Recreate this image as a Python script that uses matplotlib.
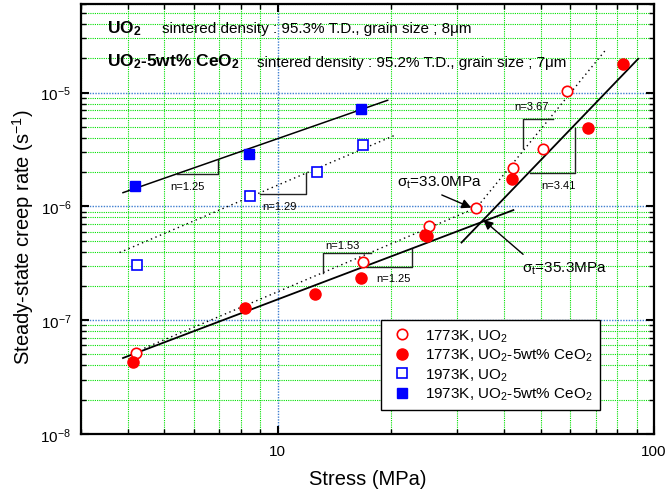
import matplotlib
matplotlib.use("Agg")
import matplotlib.pyplot as plt
from matplotlib.ticker import LogLocator, NullFormatter, FixedLocator, FuncFormatter
import numpy as np

plt.rcParams['font.family'] = ['Liberation Sans', 'DejaVu Sans']
plt.rcParams['mathtext.default'] = 'regular'
plt.rcParams['axes.unicode_minus'] = False

# measured points (stress in MPa, creep rate in 1/s)
stress_1773_uo2 = [4.2, 16.9, 25.3, 33.7, 42.1, 50.7, 58.9]
rate_1773_uo2 = [5.2e-8, 3.25e-7, 6.7e-7, 9.75e-7, 2.18e-6, 3.2e-6, 1.03e-5]

stress_1773_ce = [4.12, 8.2, 12.6, 16.6, 24.6, 25.0, 41.9, 66.7, 82.8]
rate_1773_ce = [4.26e-8, 1.27e-7, 1.71e-7, 2.37e-7, 5.6e-7, 5.45e-7, 1.73e-6, 4.9e-6, 1.8e-5]

stress_1973_uo2 = [4.22, 8.44, 12.7, 16.9]
rate_1973_uo2 = [3.03e-7, 1.23e-6, 2.01e-6, 3.43e-6]

stress_1973_ce = [4.17, 8.37, 16.7]
rate_1973_ce = [1.51e-6, 2.86e-6, 7.2e-6]

# fitted lines (end points)
fit_1973_ce_x = [3.88, 19.6]
fit_1973_ce_y = [1.32e-6, 8.56e-6]
fit_1973_uo2_x = [3.80, 20.7]
fit_1973_uo2_y = [3.93e-7, 4.28e-6]
fit_1773_ce_low_x = [3.88, 42.3]
fit_1773_ce_low_y = [4.65e-8, 9.28e-7]
fit_1773_ce_high_x = [30.8, 90.8]
fit_1773_ce_high_y = [4.81e-7, 1.98e-5]
fit_1773_uo2_low_x = [4.30, 34.4]
fit_1773_uo2_low_y = [5.46e-8, 1.0e-6]
fit_1773_uo2_high_x = [34.0, 74.5]
fit_1773_uo2_high_y = [1.0e-6, 2.38e-5]

fig = plt.figure(figsize=(6.69, 5.02), dpi=100)
ax = fig.add_axes([0.121, 0.1335, 0.8565, 0.8565])

ax.set_xscale('log')
ax.set_yscale('log')
ax.set_xlim(3, 100)
ax.set_ylim(1e-8, 6e-5)

# fit lines
ax.plot(fit_1973_ce_x, fit_1973_ce_y, color='black', lw=1.1)
ax.plot(fit_1973_uo2_x, fit_1973_uo2_y, color='black', lw=1.0, linestyle=(0, (1, 2.5)))
ax.plot(fit_1773_ce_low_x, fit_1773_ce_low_y, color='black', lw=1.3)
ax.plot(fit_1773_ce_high_x, fit_1773_ce_high_y, color='black', lw=1.3)
ax.plot(fit_1773_uo2_low_x, fit_1773_uo2_low_y, color='black', lw=1.0, linestyle=(0, (1, 2.5)))
ax.plot(fit_1773_uo2_high_x, fit_1773_uo2_high_y, color='black', lw=1.0, linestyle=(0, (1, 2.5)))

# slope triangles
tri = dict(color='#222222', lw=1.0)
ax.plot([5.39, 6.94, 6.94], [1.91e-6, 1.91e-6, 2.58e-6], **tri)
ax.plot([8.96, 11.92, 11.92], [1.29e-6, 1.29e-6, 1.98e-6], **tri)
ax.plot([13.2, 13.2, 17.7], [2.62e-7, 3.93e-7, 3.93e-7], **tri)
ax.plot([17.2, 22.7, 22.7], [2.96e-7, 2.96e-7, 4.2e-7], **tri)
ax.plot([44.9, 44.9, 54.0], [3.27e-6, 5.87e-6, 5.87e-6], **tri)
ax.plot([46.8, 61.6, 61.6], [1.95e-6, 1.95e-6, 4.9e-6], **tri)

nfs = 8
ax.text(5.77, 1.51e-6, 'n=1.25', fontsize=nfs, ha='center', va='center')
ax.text(10.12, 1.0e-6, 'n=1.29', fontsize=nfs, ha='center', va='center')
ax.text(14.9, 4.55e-7, 'n=1.53', fontsize=nfs, ha='center', va='center')
ax.text(20.3, 2.33e-7, 'n=1.25', fontsize=nfs, ha='center', va='center')
ax.text(47.3, 7.58e-6, 'n=3.67', fontsize=nfs, ha='center', va='center')
ax.text(55.7, 1.54e-6, 'n=3.41', fontsize=nfs, ha='center', va='center')

# data points
ax.plot(stress_1773_uo2, rate_1773_uo2, 'o', mfc='white', mec='red', ms=7.5, mew=1.2,
        linestyle='none', label='1773K, UO$_2$', zorder=5)
ax.plot(stress_1773_ce, rate_1773_ce, 'o', color='red', ms=8, linestyle='none',
        label='1773K, UO$_2$-5wt% CeO$_2$', zorder=5)
ax.plot(stress_1973_uo2, rate_1973_uo2, 's', mfc='white', mec='blue', ms=7, mew=1.2,
        linestyle='none', label='1973K, UO$_2$', zorder=5)
ax.plot(stress_1973_ce, rate_1973_ce, 's', color='blue', ms=7, linestyle='none',
        label='1973K, UO$_2$-5wt% CeO$_2$', zorder=5)

# transition stress annotations
arrow = dict(arrowstyle='-|>', color='black', lw=1.0, mutation_scale=14, shrinkA=0, shrinkB=0)
ax.annotate('', xy=(32.7, 9.75e-7), xytext=(27.3, 1.26e-6), arrowprops=arrow)
ax.annotate('', xy=(35.2, 7.59e-7), xytext=(44.9, 3.79e-7), arrowprops=arrow)
ax.text(20.7, 1.53e-6, 'σ$_t$=33.0MPa', fontsize=11, ha='left', va='baseline')
ax.text(44.5, 2.66e-7, 'σ$_t$=35.3MPa', fontsize=11, ha='left', va='baseline')

# header texts
ax.text(0.0454, 0.934, 'UO$_2$', transform=ax.transAxes, fontsize=12.5, fontweight='bold',
        ha='left', va='baseline')
ax.text(0.1415, 0.934, 'sintered density : 95.3% T.D., grain size ; 8μm',
        transform=ax.transAxes, fontsize=11, ha='left', va='baseline')
ax.text(0.0454, 0.8565, 'UO$_2$-5wt% CeO$_2$', transform=ax.transAxes, fontsize=12.5,
        fontweight='bold', ha='left', va='baseline')
ax.text(0.307, 0.8565, 'sintered density : 95.2% T.D., grain size ; 7μm',
        transform=ax.transAxes, fontsize=11, ha='left', va='baseline')

# ticks
ax.xaxis.set_major_locator(FixedLocator([10, 100]))
ax.xaxis.set_major_formatter(FuncFormatter(lambda v, p: f'{v:.0f}'))
ax.xaxis.set_minor_locator(LogLocator(base=10, subs=np.arange(2, 10)))
ax.xaxis.set_minor_formatter(NullFormatter())
ax.yaxis.set_major_locator(LogLocator(base=10, numticks=20))
ax.yaxis.set_major_formatter(FuncFormatter(lambda v, p: f'10$^{{{int(round(np.log10(v)))}}}$'))
ax.yaxis.set_minor_locator(LogLocator(base=10, subs=np.arange(2, 10), numticks=20))
ax.yaxis.set_minor_formatter(NullFormatter())

ax.tick_params(which='both', direction='in', top=True, right=True, labelsize=11)
ax.tick_params(which='major', length=6, width=1.5, pad=7)
ax.tick_params(which='minor', length=3.5, width=1.0)

ax.grid(which='minor', color='#00e000', linestyle=(0, (1, 1)), lw=0.8)
ax.grid(which='major', color='#3f7fd0', linestyle=(0, (1, 1)), lw=1.0)
ax.set_axisbelow(True)

for s in ax.spines.values():
    s.set_linewidth(1.6)

ax.set_xlabel('Stress (MPa)', fontsize=14.5, labelpad=8)
ax.set_ylabel('Steady-state creep rate (s$^{-1}$)', fontsize=14.5, labelpad=3, y=0.46)

leg = ax.legend(loc='lower right', bbox_to_anchor=(0.906, 0.056), fontsize=11,
                frameon=True, fancybox=False, edgecolor='black', framealpha=1,
                handlelength=1.8, handletextpad=0.6, labelspacing=0.2, borderpad=0.5,
                borderaxespad=0, numpoints=1)
leg.get_frame().set_linewidth(1.0)

fig.savefig('out.png', dpi=100)
